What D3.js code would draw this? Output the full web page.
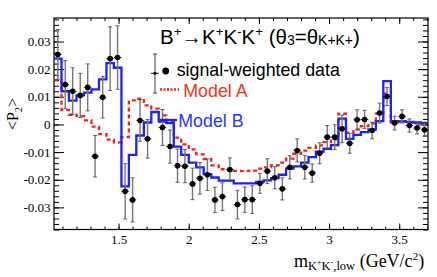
<!DOCTYPE html>
<html>
<head>
<meta charset="utf-8">
<script src="https://cdn.jsdelivr.net/npm/d3@7"></script>
<style>
body { margin: 0; background: #fff; }
svg { display: block; }
.axis text { font-family: "Liberation Serif", "Times New Roman", serif; font-size: 13px; fill: #000; }
.axis line { stroke: #000; stroke-width: 1; }
</style>
</head>
<body>
<svg width="437" height="277"></svg>
<script>

// bin centres of m(K+K-, low) in GeV/c^2
var binCenters = [1.067, 1.120, 1.173, 1.227, 1.280, 1.333, 1.387, 1.440, 1.493, 1.547,
                  1.600, 1.653, 1.707, 1.760, 1.813, 1.867, 1.920, 1.973, 2.027, 2.080,
                  2.133, 2.187, 2.240, 2.293, 2.347, 2.400, 2.453, 2.507, 2.560, 2.613,
                  2.667, 2.720, 2.773, 2.827, 2.880, 2.933, 2.987, 3.040, 3.093, 3.147,
                  3.200, 3.253, 3.307, 3.360, 3.413, 3.467, 3.520, 3.573, 3.627, 3.680];

// signal-weighted data
var dataX = [1.067, 1.120, 1.173, 1.227, 1.280, 1.333, 1.387, 1.440, 1.493, 1.547,
             1.600, 1.653, 1.707, 1.813, 1.867, 1.920, 1.973, 2.027, 2.080,
             2.133, 2.187, 2.240, 2.293, 2.347, 2.400, 2.453, 2.507, 2.560, 2.613,
             2.667, 2.720, 2.773, 2.827, 2.880, 2.933, 2.987, 3.040, 3.093, 3.147,
             3.200, 3.253, 3.307, 3.360, 3.413, 3.467, 3.520, 3.573, 3.627, 3.680];
var dataY = [0.0253, 0.0144, 0.0120, 0.0105, 0.0134, -0.0115, 0.0098, 0.0238, 0.0242, -0.0242,
             -0.0273, 0.0014, -0.0052, -0.0011, -0.0080, -0.0149, -0.0151, -0.0215, -0.0195,
             -0.0182, -0.0273, -0.0261, -0.0163, -0.0290, -0.0272, -0.0272, -0.0213, -0.0169, -0.0193,
             -0.0233, -0.0155, -0.0094, -0.0155, -0.0176, -0.0104, -0.0046, -0.0046, -0.0016, -0.0068,
             0.0017, 0.0018, -0.0022, 0.0041, 0.0101, 0.0005, 0.0029, -0.0004, -0.0013, -0.0019];
var dataErr = [0.0090, 0.0087, 0.0085, 0.0080, 0.0085, 0.0075, 0.0075, 0.0115, 0.0115, 0.0100,
               0.0080, 0.0075, 0.0070, 0.0065, 0.0060, 0.0060, 0.0060, 0.0057, 0.0057,
               0.0057, 0.0046, 0.0050, 0.0042, 0.0052, 0.0046, 0.0050, 0.0036, 0.0045, 0.0040,
               0.0040, 0.0042, 0.0042, 0.0042, 0.0033, 0.0038, 0.0042, 0.0045, 0.0050, 0.0036,
               0.0036, 0.0033, 0.0030, 0.0036, 0.0033, 0.0025, 0.0024, 0.0024, 0.0021, 0.0023];

// model predictions per bin
var modelA = [0.0160, 0.0052, 0.0035, 0.0030, 0.0015, -0.0008, -0.0035, -0.0055, -0.0065, -0.0046,
              0.0087, 0.0093, 0.0069, 0.0057, 0.0033, 0.0012, -0.0048, -0.0072, -0.0090, -0.0108,
              -0.0125, -0.0148, -0.0162, -0.0165, -0.0168, -0.0169, -0.0167, -0.0160, -0.0155, -0.0148,
              -0.0138, -0.0124, -0.0106, -0.0095, -0.0085, -0.0076, -0.0064, -0.0054, 0.0039, -0.0030,
              -0.0018, -0.0006, 0.0004, 0.0039, 0.0111, 0.0008, 0.0012, 0.0008, 0.0004, 0.0003];
var modelB = [0.0238, 0.0120, 0.0086, 0.0105, 0.0115, 0.0127, 0.0163, 0.0222, 0.0205, -0.0224,
              -0.0110, -0.0040, 0.0007, 0.0045, 0.0010, 0.0005, -0.0080, -0.0110, -0.0138, -0.0155,
              -0.0180, -0.0192, -0.0203, -0.0203, -0.0213, -0.0213, -0.0213, -0.0208, -0.0202, -0.0194,
              -0.0182, -0.0160, -0.0152, -0.0138, -0.0118, -0.0098, -0.0088, -0.0075, 0.0021, -0.0052,
              -0.0038, -0.0028, -0.0018, 0.0012, 0.0157, 0.0012, 0.0011, 0.0009, 0.0007, 0.0006];

var xMajor = [1.5, 2, 2.5, 3, 3.5];
var yMajor = [-0.03, -0.02, -0.01, 0, 0.01, 0.02, 0.03];

var svg = d3.select("svg");
var frame = {left: 54, right: 428, top: 18, bottom: 229.5};
var redCol = "#ee2418", blueCol = "#1a22ff";

var x = d3.scaleLinear().domain([1.04, 3.705]).range([frame.left, frame.right]);
var y = d3.scaleLinear().domain([-0.038, 0.0385]).range([frame.bottom, frame.top]);

var xMinor = d3.range(11, 38).map(function(d) { return d / 10; });
var yMinor = d3.range(-19, 20).map(function(d) { return d * 0.002; });

svg.append("clipPath").attr("id", "clip")
  .append("rect")
    .attr("x", frame.left).attr("y", frame.top)
    .attr("width", frame.right - frame.left).attr("height", frame.bottom - frame.top);

// axes, ticks pointing inward
function fmtY(d) { return d === 0 ? "0" : d.toFixed(2); }

svg.append("g").attr("class", "axis")
  .attr("transform", "translate(0," + frame.bottom + ")")
  .call(d3.axisBottom(x).tickValues(xMinor).tickSize(-3).tickFormat(""))
  .call(function(g) { g.select(".domain").remove(); });
svg.append("g").attr("class", "axis")
  .attr("transform", "translate(0," + frame.bottom + ")")
  .call(d3.axisBottom(x).tickValues(xMajor).tickSize(-6).tickPadding(5.5).tickFormat(function(d) { return String(d); }))
  .call(function(g) { g.select(".domain").remove(); });
svg.append("g").attr("class", "axis")
  .attr("transform", "translate(0," + frame.top + ")")
  .call(d3.axisTop(x).tickValues(xMinor).tickSize(-3).tickFormat(""))
  .call(function(g) { g.select(".domain").remove(); });
svg.append("g").attr("class", "axis")
  .attr("transform", "translate(0," + frame.top + ")")
  .call(d3.axisTop(x).tickValues(xMajor).tickSize(-6).tickFormat(""))
  .call(function(g) { g.select(".domain").remove(); });

svg.append("g").attr("class", "axis")
  .attr("transform", "translate(" + frame.left + ",0)")
  .call(d3.axisLeft(y).tickValues(yMinor).tickSize(-5).tickFormat(""))
  .call(function(g) { g.select(".domain").remove(); });
svg.append("g").attr("class", "axis")
  .attr("transform", "translate(" + frame.left + ",0)")
  .call(d3.axisLeft(y).tickValues(yMajor).tickSize(-10).tickPadding(3.5).tickFormat(fmtY))
  .call(function(g) { g.select(".domain").remove(); });
svg.append("g").attr("class", "axis")
  .attr("transform", "translate(" + frame.right + ",0)")
  .call(d3.axisRight(y).tickValues(yMinor).tickSize(-5).tickFormat(""))
  .call(function(g) { g.select(".domain").remove(); });
svg.append("g").attr("class", "axis")
  .attr("transform", "translate(" + frame.right + ",0)")
  .call(d3.axisRight(y).tickValues(yMajor).tickSize(-10).tickFormat(""))
  .call(function(g) { g.select(".domain").remove(); });

svg.append("rect")
  .attr("x", frame.left).attr("y", frame.top)
  .attr("width", frame.right - frame.left).attr("height", frame.bottom - frame.top)
  .attr("fill", "none").attr("stroke", "#000").attr("stroke-width", 1.2);

// model histograms
var halfW = (binCenters[1] - binCenters[0]) / 2;
function stepPoints(vals) {
  var pts = vals.map(function(v, i) { return [binCenters[i] - halfW, v]; });
  pts.push([binCenters[vals.length - 1] + halfW, vals[vals.length - 1]]);
  return pts;
}
var step = d3.line()
  .x(function(d) { return x(d[0]); })
  .y(function(d) { return y(d[1]); })
  .curve(d3.curveStepAfter);

var plot = svg.append("g").attr("clip-path", "url(#clip)");

plot.append("path")
  .attr("d", step(stepPoints(modelA)))
  .attr("fill", "none").attr("stroke", redCol).attr("stroke-width", 2.3)
  .attr("stroke-dasharray", "4,3");
plot.append("path")
  .attr("d", step(stepPoints(modelB)))
  .attr("fill", "none").attr("stroke", blueCol).attr("stroke-width", 2.3);

// data points with error bars
var pts = plot.append("g").selectAll("g")
  .data(dataX.map(function(d, i) { return {x: d, y: dataY[i], e: dataErr[i]}; }))
  .enter().append("g");
pts.append("line")
  .attr("x1", function(d) { return x(d.x); }).attr("x2", function(d) { return x(d.x); })
  .attr("y1", function(d) { return y(d.y - d.e); }).attr("y2", function(d) { return y(d.y + d.e); })
  .attr("stroke", "#777").attr("stroke-width", 1.4);
[-1, 1].forEach(function(s) {
  pts.append("line")
    .attr("x1", function(d) { return x(d.x) - 2; }).attr("x2", function(d) { return x(d.x) + 2; })
    .attr("y1", function(d) { return y(d.y + s * d.e); }).attr("y2", function(d) { return y(d.y + s * d.e); })
    .attr("stroke", "#444").attr("stroke-width", 0.8);
});
pts.append("line")
  .attr("x1", function(d) { return x(d.x - halfW); }).attr("x2", function(d) { return x(d.x + halfW); })
  .attr("y1", function(d) { return y(d.y); }).attr("y2", function(d) { return y(d.y); })
  .attr("stroke", "#222").attr("stroke-width", 1);
pts.append("circle")
  .attr("cx", function(d) { return x(d.x); }).attr("cy", function(d) { return y(d.y); })
  .attr("r", 2.8).attr("fill", "#000");

// rich text helper: parts = [text, kind] with kind "n", "sup" or "sub"
function rich(sel, size, parts) {
  var shift = 0;
  parts.forEach(function(p) {
    var target = p[1] === "sup" ? -size * 0.38 : (p[1] === "sub" ? size * p[2] : 0);
    var fs = p[1] === "n" ? size : size * (p[3] || 0.65);
    sel.append("tspan").attr("dy", target - shift).attr("font-size", fs).text(p[0]);
    shift = target;
  });
}

// title
var title = svg.append("text").attr("x", 160).attr("y", 43.5)
  .attr("font-family", "Liberation Sans, Arial, sans-serif").attr("fill", "#000");
rich(title, 20.5, [["B", "n"], ["+", "sup"], ["\u2192K", "n"], ["+", "sup"], ["K", "n"], ["-", "sup"],
  ["K", "n"], ["+", "sup"], [" (\u03b8", "n"], ["3", "sub", 0.08, 0.68], ["=\u03b8", "n"],
  ["K+K+", "sub", 0.08, 0.68], [")", "n"]]);

// legend
var leg = svg.append("g").attr("font-family", "Liberation Sans, Arial, sans-serif").attr("font-size", 17.8);
leg.append("line").attr("x1", 155).attr("x2", 155).attr("y1", 54).attr("y2", 93)
  .attr("stroke", "#777").attr("stroke-width", 1.4);
leg.append("line").attr("x1", 153).attr("x2", 157).attr("y1", 54).attr("y2", 54).attr("stroke", "#444");
leg.append("line").attr("x1", 153).attr("x2", 157).attr("y1", 93).attr("y2", 93).attr("stroke", "#444");
leg.append("line").attr("x1", 151).attr("x2", 159).attr("y1", 73.3).attr("y2", 73.3).attr("stroke", "#222");
leg.append("circle").attr("cx", 155).attr("cy", 73.3).attr("r", 1.6).attr("fill", "#000");
leg.append("circle").attr("cx", 165.7).attr("cy", 71).attr("r", 3.4).attr("fill", "#000");
leg.append("text").attr("x", 176.7).attr("y", 76).attr("fill", "#000").text("signal-weighted data");

leg.append("line").attr("x1", 160).attr("x2", 179).attr("y1", 89.5).attr("y2", 89.5)
  .attr("stroke", redCol).attr("stroke-width", 2.3).attr("stroke-dasharray", "2,1.5");
leg.append("text").attr("x", 183.3).attr("y", 97.3).attr("fill", "#f0341c").text("Model A");

leg.append("line").attr("x1", 160).attr("x2", 177).attr("y1", 120).attr("y2", 120)
  .attr("stroke", blueCol).attr("stroke-width", 2.3);
leg.append("text").attr("x", 178.3).attr("y", 126.7).attr("fill", "#2a36ff").text("Model B");

// axis titles
var yl = svg.append("text")
  .attr("transform", "translate(17.5,114) rotate(-90)")
  .attr("text-anchor", "middle")
  .attr("font-family", "Liberation Serif, Times New Roman, serif").attr("fill", "#000");
rich(yl, 16, [["<P", "n"], ["2", "sub", 0.25, 0.65], [">", "n"]]);

var xl = svg.append("text").attr("x", 294).attr("y", 266.7)
  .attr("font-family", "Liberation Serif, Times New Roman, serif").attr("fill", "#000");
xl.append("tspan").attr("font-size", 18).text("m");
xl.append("tspan").attr("font-size", 12.5).attr("dy", 3).text("K");
xl.append("tspan").attr("font-size", 8).attr("dy", -5).text("+");
xl.append("tspan").attr("font-size", 12.5).attr("dy", 5).text("K");
xl.append("tspan").attr("font-size", 8).attr("dy", -5).text("-");
xl.append("tspan").attr("font-size", 12.5).attr("dy", 5).text(",low");
xl.append("tspan").attr("font-size", 18).attr("dy", -3).text(" (GeV/c");
xl.append("tspan").attr("font-size", 11).attr("dy", -7).text("2");
xl.append("tspan").attr("font-size", 18).attr("dy", 7).text(")");

</script>
</body>
</html>
